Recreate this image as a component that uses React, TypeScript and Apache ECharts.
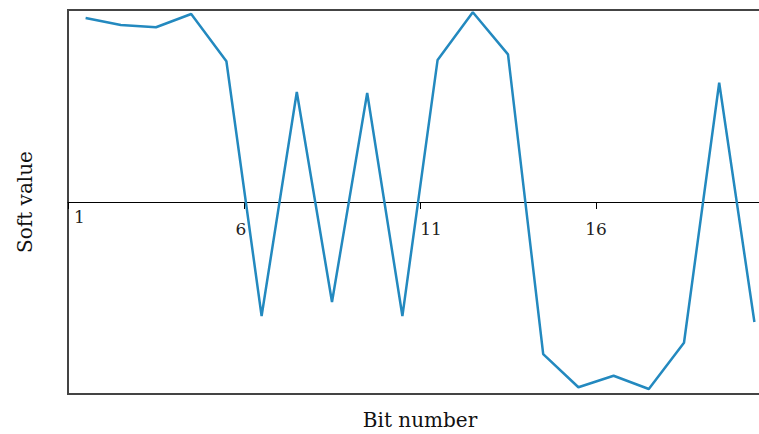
import React, { useEffect, useRef } from "react";
import * as echarts from "echarts";

// Bit positions along the horizontal axis and the decoder's soft output for each bit
const bitNumbers = [1, 2, 3, 4, 5, 6, 7, 8, 9, 10, 11, 12, 13, 14, 15, 16, 17, 18, 19, 20];
const softValues = [
  0.958, 0.922, 0.91, 0.979, 0.733, -0.594, 0.573, -0.521, 0.568, -0.594,
  0.74, 0.988, 0.769, -0.792, -0.965, -0.905, -0.974, -0.733, 0.621, -0.625,
];
// Bits that carry a tick label
const labelledBits = [1, 6, 11, 16];

const FONT = "DejaVu Serif";

// Each tick label has its own small offset from its tick
const labelStyles: Record<string, any> = {
  a: { padding: [0, 0, 0, 23] },
  b: { padding: [12, 6, 0, 0] },
  c: { padding: [12, 0, 0, 22] },
  d: { padding: [12, 0, 0, 0] },
};
const styleKeys = ["a", "b", "c", "d"];

export default function App() {
  const ref = useRef<HTMLDivElement>(null);

  useEffect(() => {
    if (!ref.current) return;
    const chart = echarts.init(ref.current, null, { renderer: "svg" });

    const rich: Record<string, any> = {};
    styleKeys.forEach((k) => {
      rich[k] = {
        fontFamily: FONT,
        fontSize: 17,
        color: "#222",
        ...labelStyles[k],
      };
    });

    chart.setOption({
      animation: false,
      grid: {
        left: 68,
        top: 10,
        bottom: 40,
        right: -13,
        outerBoundsMode: "none",
        containLabel: false,
        show: true,
        borderColor: "#444",
        borderWidth: 2,
        backgroundColor: "transparent",
      },
      xAxis: {
        type: "value",
        min: 0,
        max: 20,
        interval: 5,
        position: "bottom",
        axisLine: { onZero: true, lineStyle: { color: "#000", width: 1 } },
        axisTick: { show: true, length: 7, lineStyle: { color: "#000", width: 1 } },
        splitLine: { show: false },
        axisLabel: {
          // labels sit just under the zero line, well above the frame's bottom edge
          margin: -186,
          verticalAlign: "top",
          formatter: (v: number) => {
            const bit = v + 1;
            const idx = labelledBits.indexOf(bit);
            if (idx < 0) return "";
            return `{${styleKeys[idx]}|${bit}}`;
          },
          rich,
        },
        name: "Bit number",
        nameLocation: "middle",
        nameGap: 16,
        nameTextStyle: { fontFamily: FONT, fontSize: 20, color: "#111" },
      },
      yAxis: {
        type: "value",
        min: -1,
        max: 1,
        axisLine: { show: false },
        axisTick: { show: false },
        axisLabel: { show: false },
        splitLine: { show: false },
        name: "Soft value",
        nameLocation: "middle",
        nameGap: 33,
        nameTextStyle: { fontFamily: FONT, fontSize: 20, color: "#111" },
      },
      series: [
        {
          type: "line",
          data: bitNumbers.map((b, i) => [b - 0.5, softValues[i]]),
          showSymbol: false,
          lineStyle: { color: "#2389bf", width: 2.5 },
        },
      ],
    });

    return () => chart.dispose();
  }, []);

  return <div ref={ref} style={{ width: 759, height: 434, position: "absolute", left: 0, top: 0 }} />;
}
